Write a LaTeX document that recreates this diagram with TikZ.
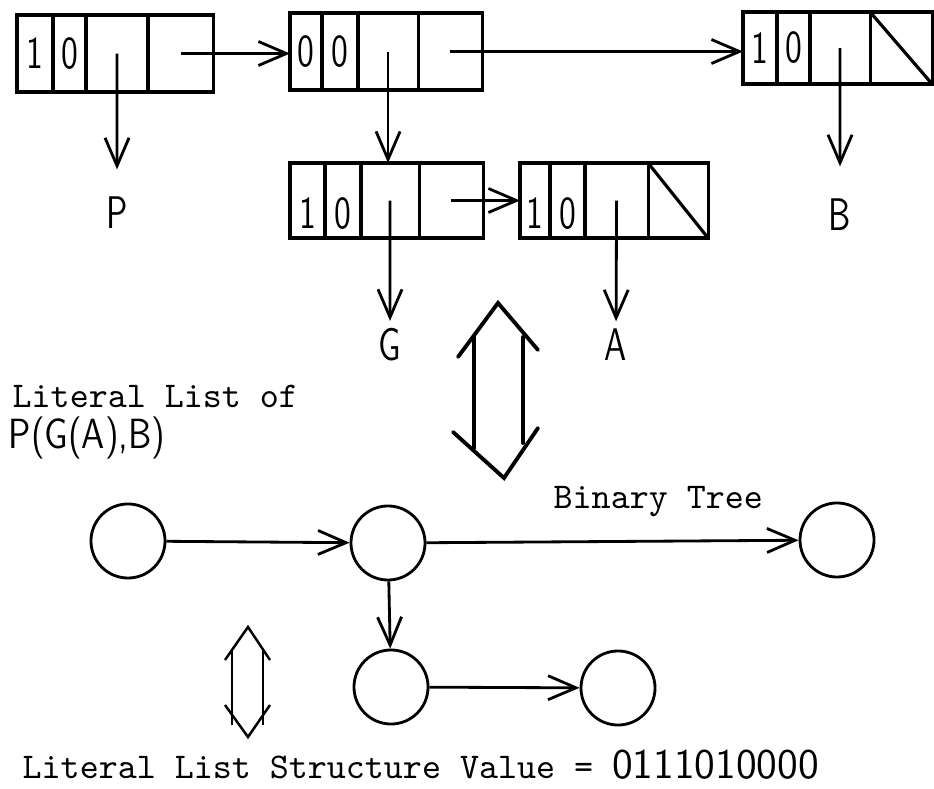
\documentclass[tikz,border=0pt]{standalone}
\usepackage{graphicx}
\usepackage{tikz}
\usetikzlibrary{arrows.meta,positioning}
\newcommand{\narrow}[1]{\scalebox{0.75}[1]{#1}}
\newcommand{\lowdigit}[1]{\raisebox{-2.8mm}[0pt][0pt]{\narrow{#1}}}

\begin{document}
\begin{tikzpicture}[
x=0.01cm, y=-0.01cm,
cell/.style={
draw,
line width=0.9pt,
outer sep=0pt,
inner sep=0pt,
minimum height=0.77cm,
font=\fontsize{13}{15}\sffamily
},
ptr/.style={
line width=0.8pt,
-{Straight Barb[length=2.8mm,width=2.4mm]}
},
circ/.style={
draw,
circle,
line width=0.8pt,
minimum size=0.74cm
},
lbl/.style={
font=\fontsize{13}{15}\sffamily,
inner sep=2pt
},
mono/.style={
font=\fontsize{10.3}{12}\ttfamily,
inner sep=0pt,
anchor=west
},
bigarrow/.style={
line width=1.1pt,
line cap=round
}
]
\useasboundingbox (0,0) rectangle (934,789);

\node[cell, minimum width=0.36cm, anchor=north west] (b1a) at (17,15) {\narrow{1}};
\node[cell, minimum width=0.33cm, right=0pt of b1a] (b1b) {\narrow{0}};
\node[cell, minimum width=0.62cm, right=0pt of b1b] (b1c) {};
\node[cell, minimum width=0.65cm, right=0pt of b1c] (b1d) {};

\node[cell, minimum width=0.32cm, anchor=north west] (b2a) at (290,13) {\narrow{0}};
\node[cell, minimum width=0.36cm, right=0pt of b2a] (b2b) {\narrow{0}};
\node[cell, minimum width=0.60cm, right=0pt of b2b] (b2c) {};
\node[cell, minimum width=0.64cm, right=0pt of b2c] (b2d) {};

\node[cell, minimum height=0.72cm, minimum width=0.34cm, anchor=north west] (b3a) at (743,12) {\narrow{1}};
\node[cell, minimum height=0.72cm, minimum width=0.33cm, right=0pt of b3a] (b3b) {\narrow{0}};
\node[cell, minimum height=0.72cm, minimum width=0.60cm, right=0pt of b3b] (b3c) {};
\node[cell, minimum height=0.72cm, minimum width=0.62cm, right=0pt of b3c] (b3d) {};

\node[cell, minimum height=0.75cm, minimum width=0.35cm, anchor=north west] (b4a) at (290,163) {\lowdigit{1}};
\node[cell, minimum height=0.75cm, minimum width=0.36cm, right=0pt of b4a] (b4b) {\lowdigit{0}};
\node[cell, minimum height=0.75cm, minimum width=0.58cm, right=0pt of b4b] (b4c) {};
\node[cell, minimum height=0.75cm, minimum width=0.64cm, right=0pt of b4c] (b4d) {};

\node[cell, minimum height=0.75cm, minimum width=0.30cm, anchor=north west] (b5a) at (520,163) {\lowdigit{1}};
\node[cell, minimum height=0.75cm, minimum width=0.35cm, right=0pt of b5a] (b5b) {\lowdigit{0}};
\node[cell, minimum height=0.75cm, minimum width=0.63cm, right=0pt of b5b] (b5c) {};
\node[cell, minimum height=0.75cm, minimum width=0.60cm, right=0pt of b5c] (b5d) {};

\draw[line width=0.9pt] (b3d.north west) -- (b3d.south east);
\draw[line width=0.9pt] (b5d.north west) -- (b5d.south east);

\node[lbl] (lP) at (117,213) {\narrow{P}};
\node[lbl] (lB) at (840,215) {\narrow{B}};
\node[lbl] (lG) at (390,345) {\narrow{G}};
\node[lbl] (lA) at (616,345) {\narrow{A}};

\draw[ptr] (b1d.center) -- (b1d.center -| b2a.west);
\draw[ptr] (b2d.center) -- (b2d.center -| b3a.west);
\draw[ptr] (b4d.center) -- (b4d.center -| b5a.west);
\draw[ptr] (b2c.center) -- (b2c.center |- b4c.north);
\draw[ptr, shorten >=2mm] (b1c.center) -- (lP);
\draw[ptr, shorten >=2.5mm] (b3c.center) -- (lB);
\draw[ptr] (b4c.center) -- (lG);
\draw[ptr] (b5c.center) -- (lA);

\draw[bigarrow] (458,357) -- (498,303) -- (538,350);
\draw[bigarrow] (474,337) -- (474,448);
\draw[bigarrow] (523,337) -- (523,443);
\draw[bigarrow] (453,432) -- (504,478) -- (538,428);

\node[mono] (lit) at (12,396) {Literal List of};
\node[anchor=west, inner sep=0pt, font=\fontsize{12}{14}\sffamily] (expr) at (8,438) {\scalebox{0.85}[1]{P(G(A),B)}};
\node[mono] (tree) at (553,502) {Binary Tree};

\node[circ] (c1) at (128,541) {};
\node[circ] (c2) at (388,543) {};
\node[circ] (c3) at (837,540) {};
\node[circ] (c4) at (391,687) {};
\node[circ] (c5) at (618,688) {};

\draw[ptr] (c1) -- (c2);
\draw[ptr] (c2) -- (c3);
\draw[ptr] (c2) -- (c4);
\draw[ptr] (c4) -- (c5);

\draw[line width=0.7pt] (225,660) -- (248,627) -- (270,660);
\draw[line width=0.7pt] (232,650) -- (232,725);
\draw[line width=0.7pt] (263,650) -- (263,725);
\draw[line width=0.7pt] (225,705) -- (248,737) -- (270,705);

\node[mono] (value) at (22,765) {Literal List Structure Value = {\fontsize{12}{14}\sffamily 0111010000}};
\end{tikzpicture}
\end{document}
